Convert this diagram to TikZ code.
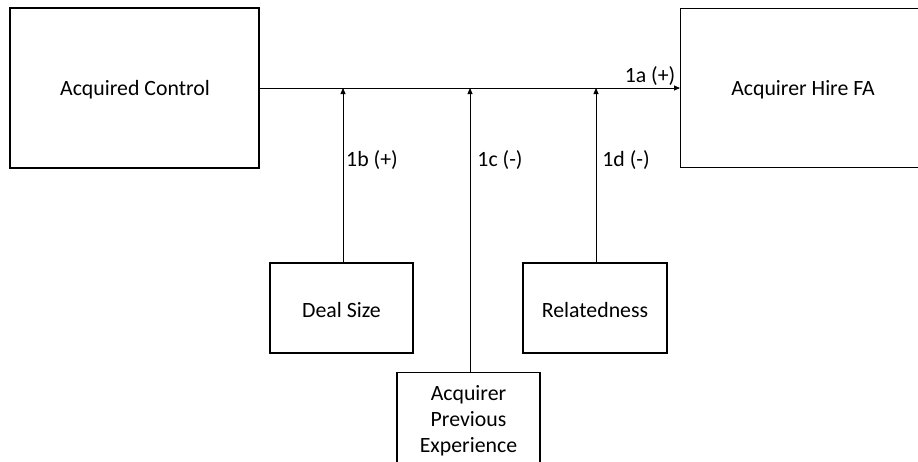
\documentclass[tikz,border=0pt]{standalone}
\usepackage{fontspec}
\setmainfont{Carlito}
\usetikzlibrary{arrows.meta}
\begin{document}
\begin{tikzpicture}[x=1pt,y=-1pt,
  box/.style={draw=black,line width=1.3pt,inner sep=0pt},
  txt/.style={font=\fontsize{21.8}{26}\selectfont,inner sep=0pt,align=center},
  arr/.style={-{Triangle[length=6pt,width=5pt]},line width=0.8pt}]
\useasboundingbox (0,0) rectangle (918,461);
\clip (0,0) rectangle (918,461);
\node[box,minimum width=249pt,minimum height=160pt] (ac) at (134.5,88) {};
\node[txt] (act) at (135,90) {Acquired Control};
\node[box,minimum width=300pt,minimum height=159pt,anchor=north west] (fa) at (680,8) {};
\node[txt] (fat) at (803,90) {Acquirer Hire FA};
\node[box,minimum width=143pt,minimum height=90pt] (ds) at (341.5,308) {};
\node[txt] (dst) at (341.5,310) {Deal Size};
\node[box,minimum width=144pt,minimum height=90pt] (rel) at (595,308) {};
\node[txt] (relt) at (595,310) {Relatedness};
\node[box,minimum width=143pt,minimum height=110pt,anchor=north] (ape) at (468.5,372) {};
\node[txt,anchor=north] (apet) at (468.5,385) {Acquirer\\Previous\\Experience};
\coordinate (pb) at (343,88);
\coordinate (pc) at (470,88);
\coordinate (pd) at (596,88);
\draw[arr] (ac.east |- 0,88) -- (fa.west |- 0,88);
\draw[arr] (ds.north -| pb) -- (pb);
\draw[arr] (ape.north -| pc) -- (pc);
\draw[arr] (rel.north -| pd) -- (pd);
\node[txt] (la) at (650,76) {1a (+)};
\node[txt] (lb) at (372,160) {1b (+)};
\node[txt] (lc) at (500,160) {1c (-)};
\node[txt] (ld) at (626,160) {1d (-)};
\end{tikzpicture}
\end{document}
